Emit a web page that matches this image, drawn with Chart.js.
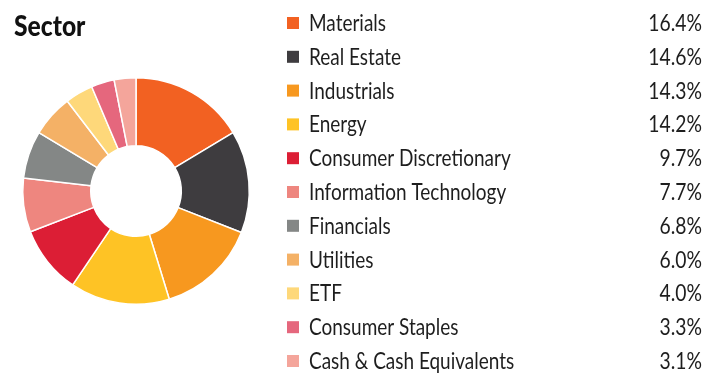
<!DOCTYPE html>
<html>
<head>
<meta charset="utf-8">
<script src="https://cdn.jsdelivr.net/npm/chart.js@4.4.1/dist/chart.umd.min.js"></script>
<style>
  html, body { margin: 0; padding: 0; background: #fff; }
  #wrap { position: relative; width: 718px; height: 373px; }
</style>
</head>
<body>
<div id="wrap"><canvas id="sectorChart"></canvas></div>
<script>
var sectors = ['Materials', 'Real Estate', 'Industrials', 'Energy', 'Consumer Discretionary',
  'Information Technology', 'Financials', 'Utilities', 'ETF', 'Consumer Staples',
  'Cash & Cash Equivalents'];
var weights = [16.4, 14.6, 14.3, 14.2, 9.7, 7.7, 6.8, 6.0, 4.0, 3.3, 3.1];
var colors = ['#F26122', '#3E3C3F', '#F7981F', '#FEC325', '#DC1E35', '#EE867F',
  '#848786', '#F4B166', '#FED87A', '#E5677D', '#F4A59B'];

const FONT = "Lato, 'Open Sans', sans-serif";

// the typeface is narrow, so squeeze the text horizontally
function narrowText(ctx, text, x, y, sx) {
  ctx.save();
  ctx.translate(x, y);
  ctx.scale(sx, 1);
  ctx.fillText(text, 0, 0);
  ctx.restore();
}

// title + legend table with right-aligned percentages
const sideLegend = {
  id: 'sideLegend',
  afterDraw(chart) {
    const { ctx } = chart;
    ctx.save();
    ctx.fillStyle = '#111';
    ctx.font = '900 28px ' + FONT;
    ctx.textAlign = 'left';
    ctx.textBaseline = 'alphabetic';
    narrowText(ctx, 'Sector', 14, 36, 0.88);

    ctx.font = '23px ' + FONT;
    for (let i = 0; i < sectors.length; i++) {
      const y = 31 + i * 33.8;
      ctx.fillStyle = colors[i];
      ctx.fillRect(287, y - 14, 12, 12);
      ctx.fillStyle = '#1e1e1e';
      ctx.textAlign = 'left';
      narrowText(ctx, sectors[i], 309, y, 0.825);
      ctx.textAlign = 'right';
      narrowText(ctx, weights[i].toFixed(1) + '%', 702, y, 0.84);
    }
    ctx.restore();
  }
};

new Chart(document.getElementById('sectorChart'), {
  type: 'doughnut',
  data: {
    labels: sectors,
    datasets: [{
      data: weights,
      backgroundColor: colors,
      borderColor: '#fff',
      borderWidth: 1.5
    }]
  },
  options: {
    responsive: true,
    maintainAspectRatio: false,
    animation: false,
    cutout: '40%',
    layout: { padding: { left: 22, top: 77, right: 468, bottom: 68 } },
    plugins: {
      legend: { display: false },
      tooltip: { enabled: false }
    }
  },
  plugins: [sideLegend]
});
</script>
</body>
</html>
